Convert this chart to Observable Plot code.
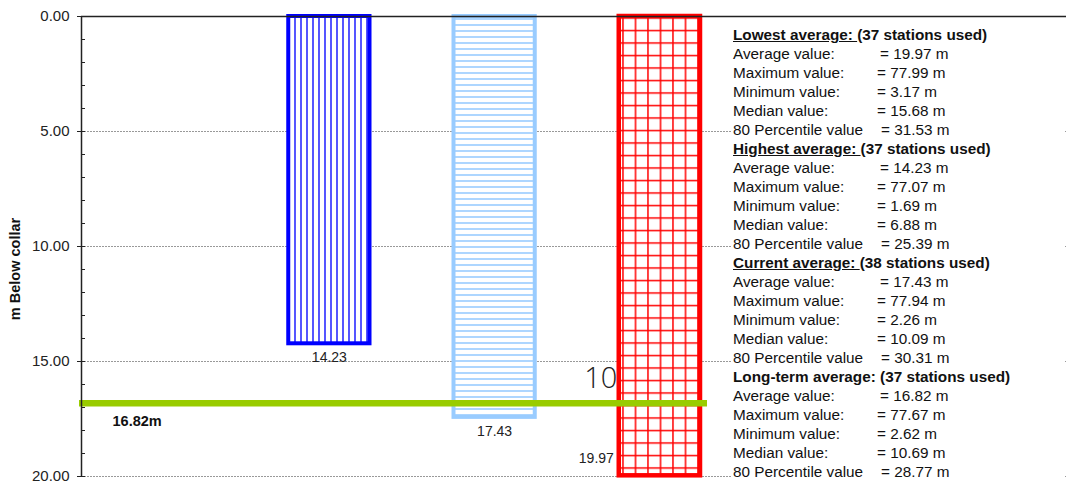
<!DOCTYPE html>
<html>
<head>
<meta charset="utf-8">
<script src="https://cdn.jsdelivr.net/npm/d3@7"></script>
<script src="https://cdn.jsdelivr.net/npm/@observablehq/plot@0.6"></script>
<style>
  html, body { margin: 0; padding: 0; background: #fff; }
  #wrap { position: relative; width: 1068px; height: 482px; overflow: hidden; font-family: "Liberation Sans", Arial, sans-serif; }
  #ylabel { position: absolute; left: 15px; top: 269px; transform: translate(-50%, -50%) rotate(-90deg); font-weight: bold; font-size: 14.5px; color: #111; white-space: nowrap; }
  #panel { position: absolute; left: 731px; top: 25px; width: 331px; background: #fff; padding-left: 2px; font-size: 15.3px; color: #111; }
  .row { position: relative; height: 19px; line-height: 19px; white-space: nowrap; }
  .row .v { position: absolute; top: 0; }
  .hdr { font-weight: bold; }
  .ul { text-decoration: underline; }
</style>
</head>
<body>
<div id="wrap">
  <div id="chart"></div>
  <div id="ylabel"></div>
  <div id="panel"></div>
</div>
<script>
// ---------- data ----------
const yAxisTitle = "m Below collar";
const yTicks = [0, 5, 10, 15, 20];
const yMinorTicks = d3.range(0, 21, 1);

// bars (depth averages), in drawing order
const barCategories = ["Highest average", "Current average", "Lowest average"];
const barValues = [14.23, 17.43, 19.97];
const barStrokes = ["#0000ff", "#99ccff", "#ff0000"];
const barPatterns = ["hatch-v", "hatch-h", "hatch-grid"];

// long-term average line
const longTermValue = 16.82;
const longTermLabel = "16.82m";

// stray label in the original picture
const strayText = "10";
const strayDepth = 15.75;

// statistics panel
const groups = ["Lowest average", "Highest average", "Current average", "Long-term average"];
const stationsUsed = [37, 37, 38, 37];
const underlined = [true, true, true, false];
const avgValues = [19.97, 14.23, 17.43, 16.82];
const maxValues = [77.99, 77.07, 77.94, 77.67];
const minValues = [3.17, 1.69, 2.26, 2.62];
const medianValues = [15.68, 6.88, 10.09, 10.69];
const p80Values = [31.53, 25.39, 30.31, 28.77];
const statLabels = ["Average value:", "Maximum value:", "Minimum value:", "Median value:", "80 Percentile value"];

// ---------- build ----------
// slot 0 is empty (axis side), bars occupy slots 1..3, slots 4..5 hold the panel
const bars = barCategories.map((c, i) => ({
  category: c, value: barValues[i], stroke: barStrokes[i],
  fill: `url(#${barPatterns[i]})`, slot: i + 1
}));
const lowestSlot = bars.find(d => d.category === "Lowest average").slot;
const belowBars = bars.filter(d => d.category !== "Lowest average");
const besideBars = bars.filter(d => d.category === "Lowest average");

const chart = Plot.plot({
  width: 1068,
  height: 482,
  marginLeft: 81,
  marginRight: 2,
  marginTop: 16,
  marginBottom: 6,
  style: { fontFamily: "Liberation Sans, Arial, sans-serif", fontSize: "15px", background: "transparent", overflow: "visible", color: "#111" },
  x: { domain: [0, 6], range: [81, 1072.5], axis: null },
  y: { domain: [0, 20], reverse: true },
  marks: [
    Plot.ruleY(yTicks.filter(d => d > 0), { stroke: "#999", strokeDasharray: "2,1", strokeWidth: 1 }),
    Plot.text([strayText], { x: lowestSlot, y: strayDepth, text: d => d, dx: 7, textAnchor: "start",
      fontSize: 29, fontWeight: 300, fontFamily: "Open Sans, Liberation Sans, sans-serif", fill: "#222", letterSpacing: 4 }),
    Plot.rect(bars, { x1: "slot", x2: d => d.slot + 1, y1: 0, y2: "value", fill: "fill", stroke: "stroke",
      strokeWidth: d => d.category === "Lowest average" ? 4.5 : 4, insetLeft: 42, insetRight: 42 }),
    Plot.ruleY([longTermValue], { x1: 0, x2: lowestSlot + 1, insetLeft: -2, insetRight: 35, stroke: "#99cc00", strokeWidth: 6.5 }),
    Plot.text([longTermLabel], { x: 0, y: longTermValue, text: d => d, dx: 31, dy: 18, textAnchor: "start", fontWeight: "bold", fontSize: 14.5, fill: "#111" }),
    Plot.text(belowBars, { x: d => d.slot + 0.5, y: "value", text: d => d.value.toFixed(2), dy: 14, fontSize: 14, fill: "#222" }),
    Plot.text(besideBars, { x: d => d.slot + 0.5, y: "value", text: d => d.value.toFixed(2), dx: -46, dy: -17, textAnchor: "end", fontSize: 14, fill: "#222" }),
    Plot.ruleY([0], { stroke: "#222", strokeWidth: 1.5 }),
    Plot.ruleX([0], { stroke: "#222", strokeWidth: 1.5 }),
    Plot.ruleY(yMinorTicks, { x1: 0, x2: 0, insetRight: -4, stroke: "#222", strokeWidth: 1 }),
    Plot.axisY(yTicks, { tickSize: 4, tickPadding: 8, tickFormat: d => d.toFixed(2), label: null, fontSize: 15, stroke: "#222", fill: "#222" })
  ]
});

// hatch patterns for the bars
const defs = d3.select(chart).insert("defs", ":first-child");
const pv = defs.append("pattern").attr("id", "hatch-v").attr("patternUnits", "userSpaceOnUse").attr("width", 6).attr("height", 6);
pv.append("rect").attr("width", 6).attr("height", 6).attr("fill", "#fff");
pv.append("line").attr("x1", 1).attr("x2", 1).attr("y1", 0).attr("y2", 6).attr("stroke", "#2a2aff").attr("stroke-width", 1.6);
const ph = defs.append("pattern").attr("id", "hatch-h").attr("patternUnits", "userSpaceOnUse").attr("width", 6).attr("height", 6);
ph.append("rect").attr("width", 6).attr("height", 6).attr("fill", "#fff");
ph.append("line").attr("x1", 0).attr("x2", 6).attr("y1", 1).attr("y2", 1).attr("stroke", "#99ccff").attr("stroke-width", 1.6);
const pg = defs.append("pattern").attr("id", "hatch-grid").attr("patternUnits", "userSpaceOnUse").attr("width", 12.5).attr("height", 12.5);
pg.append("rect").attr("width", 12.5).attr("height", 12.5).attr("fill", "#fff");
pg.append("line").attr("x1", 10.5).attr("x2", 10.5).attr("y1", 0).attr("y2", 12.5).attr("stroke", "#ff0000").attr("stroke-width", 1.5);
pg.append("line").attr("x1", 0).attr("x2", 12.5).attr("y1", 5.5).attr("y2", 5.5).attr("stroke", "#ff0000").attr("stroke-width", 1.5);

document.getElementById("chart").appendChild(chart);
document.getElementById("ylabel").textContent = yAxisTitle;

// statistics panel
const panel = document.getElementById("panel");
const valueLeft = [147, 144, 144, 144, 148];
groups.forEach((g, gi) => {
  const hdr = document.createElement("div");
  hdr.className = "row hdr";
  const t = document.createElement("span");
  t.textContent = g + ": ";
  if (underlined[gi]) t.className = "ul";
  hdr.appendChild(t);
  hdr.appendChild(document.createTextNode(`(${stationsUsed[gi]} stations used)`));
  panel.appendChild(hdr);
  const vals = [avgValues[gi], maxValues[gi], minValues[gi], medianValues[gi], p80Values[gi]];
  statLabels.forEach((lab, li) => {
    const r = document.createElement("div");
    r.className = "row";
    const l = document.createElement("span");
    l.textContent = lab;
    const v = document.createElement("span");
    v.className = "v";
    v.style.left = valueLeft[li] + "px";
    v.textContent = "= " + vals[li].toFixed(2) + " m";
    r.appendChild(l); r.appendChild(v);
    panel.appendChild(r);
  });
});
</script>
</body>
</html>
